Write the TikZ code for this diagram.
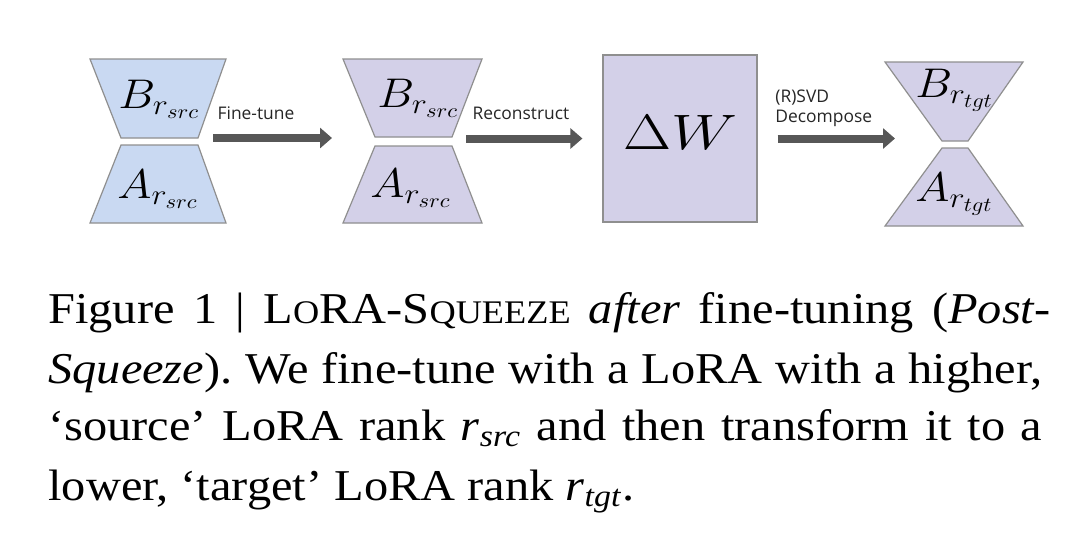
\documentclass[tikz,border=0pt]{standalone}
\usepackage{fontspec}
\setmainfont{Liberation Serif}[FakeStretch=1.1]
\newfontfamily\lblfont{Open Sans}
\usetikzlibrary{arrows.meta}
\definecolor{lblue}{HTML}{C9D9F2}
\definecolor{lpurp}{HTML}{D3D0E8}
\definecolor{edgegray}{HTML}{8F8F8F}
\definecolor{arrgray}{HTML}{575757}
\newcommand{\fakesc}[1]{{\fontsize{16.5pt}{16.5pt}\selectfont #1}}
\newcommand{\risub}[1]{\textit{r}\textsubscript{\textit{#1}}}
\newcommand{\wide}[1]{\scalebox{1.12}[1]{#1}}
\frenchspacing
\begin{document}
\begin{tikzpicture}[x=0.5pt,y=-0.5pt,
  trap/.style={draw=edgegray,line width=0.6pt},
  flow/.style={draw=arrgray,line width=4pt,-{Triangle[length=6pt,width=10pt]}},
  steplabel/.style={font=\lblfont\fontsize{8.7pt}{10pt}\selectfont,text=black!85,inner sep=0pt},
  mathlbl/.style={font=\fontsize{20.5pt}{20.5pt}\selectfont,inner sep=0pt,anchor=base west},
  capline/.style={anchor=base west,inner sep=0pt,font=\fontsize{22pt}{22pt}\selectfont}]
\useasboundingbox[fill=white] (0,0) rectangle (1080,559);

% hourglass 1 (blue)
\filldraw[trap,fill=lblue] (90,59) -- (226,59) -- (198,138) -- (121,138) -- cycle;
\filldraw[trap,fill=lblue] (121,145) -- (198,145) -- (226,223) -- (90,223) -- cycle;
\node[mathlbl] (b1) at (118,108) {\wide{$B_{r_{src}}$}};
\node[mathlbl] (a1) at (117,198) {\wide{$A_{r_{src}}$}};

% hourglass 2 (purple)
\filldraw[trap,fill=lpurp] (343,59) -- (482,59) -- (452,137) -- (375,137) -- cycle;
\filldraw[trap,fill=lpurp] (375,146) -- (452,146) -- (482,223) -- (343,223) -- cycle;
\node[mathlbl] (b2) at (377,107) {\wide{$B_{r_{src}}$}};
\node[mathlbl] (a2) at (370,197) {\wide{$A_{r_{src}}$}};

% Delta W
\node[draw=edgegray,line width=0.6pt,fill=lpurp,minimum width=77pt,minimum height=83.5pt,inner sep=0pt] (dw) at (680,138.5) {};
\node[inner sep=0pt,font=\fontsize{31pt}{31pt}\selectfont] (dwt) at (680,132) {\scalebox{1.25}[1]{$\Delta W$}};

% hourglass 3 (purple, target)
\filldraw[trap,fill=lpurp] (885,62) -- (1023,62) -- (968,141) -- (942,141) -- cycle;
\filldraw[trap,fill=lpurp] (942,148) -- (968,148) -- (1023,226) -- (885,226) -- cycle;
\node[mathlbl] (b3) at (915,97) {\wide{$B_{r_{tgt}}$}};
\node[mathlbl] (a3) at (915,201) {\wide{$A_{r_{tgt}}$}};

% arrows
\coordinate (a1s) at (213,138);
\coordinate (a1e) at (332,138);
\coordinate (a2s) at (466,138.5);
\coordinate (a3e) at (895,138.5);
\draw[flow] (a1s) -- (a1e);
\draw[flow,shorten >=10pt] (a2s) -- (dw.west);
\draw[flow,shorten <=10pt] (dw.east) -- (a3e);

% arrow labels
\node[steplabel] (l1) at (256,113) {Fine-tune};
\node[steplabel] (l2) at (521,113) {Reconstruct};
\node[steplabel,anchor=west] (l3) at (775,98) {(R)SVD};
\node[steplabel,anchor=west] (l4) at (775,118) {Decompose};

% caption
\node[capline] (c1) at (48,323) {\makebox[501pt][s]{Figure 1 | L\fakesc{O}RA-S\fakesc{QUEEZE} \textit{after} fine-tuning (\textit{Post-}}};
\node[capline] (c2) at (48,383) {\makebox[497pt][s]{\textit{Squeeze}). We fine-tune with a LoRA with a higher,}};
\node[capline] (c3) at (48,440) {\makebox[497pt][s]{`source' LoRA rank \risub{src} and then transform it to a}};
\node[capline] (c4) at (48,500) {lower, `target' LoRA rank \risub{tgt}.};
\end{tikzpicture}
\end{document}
